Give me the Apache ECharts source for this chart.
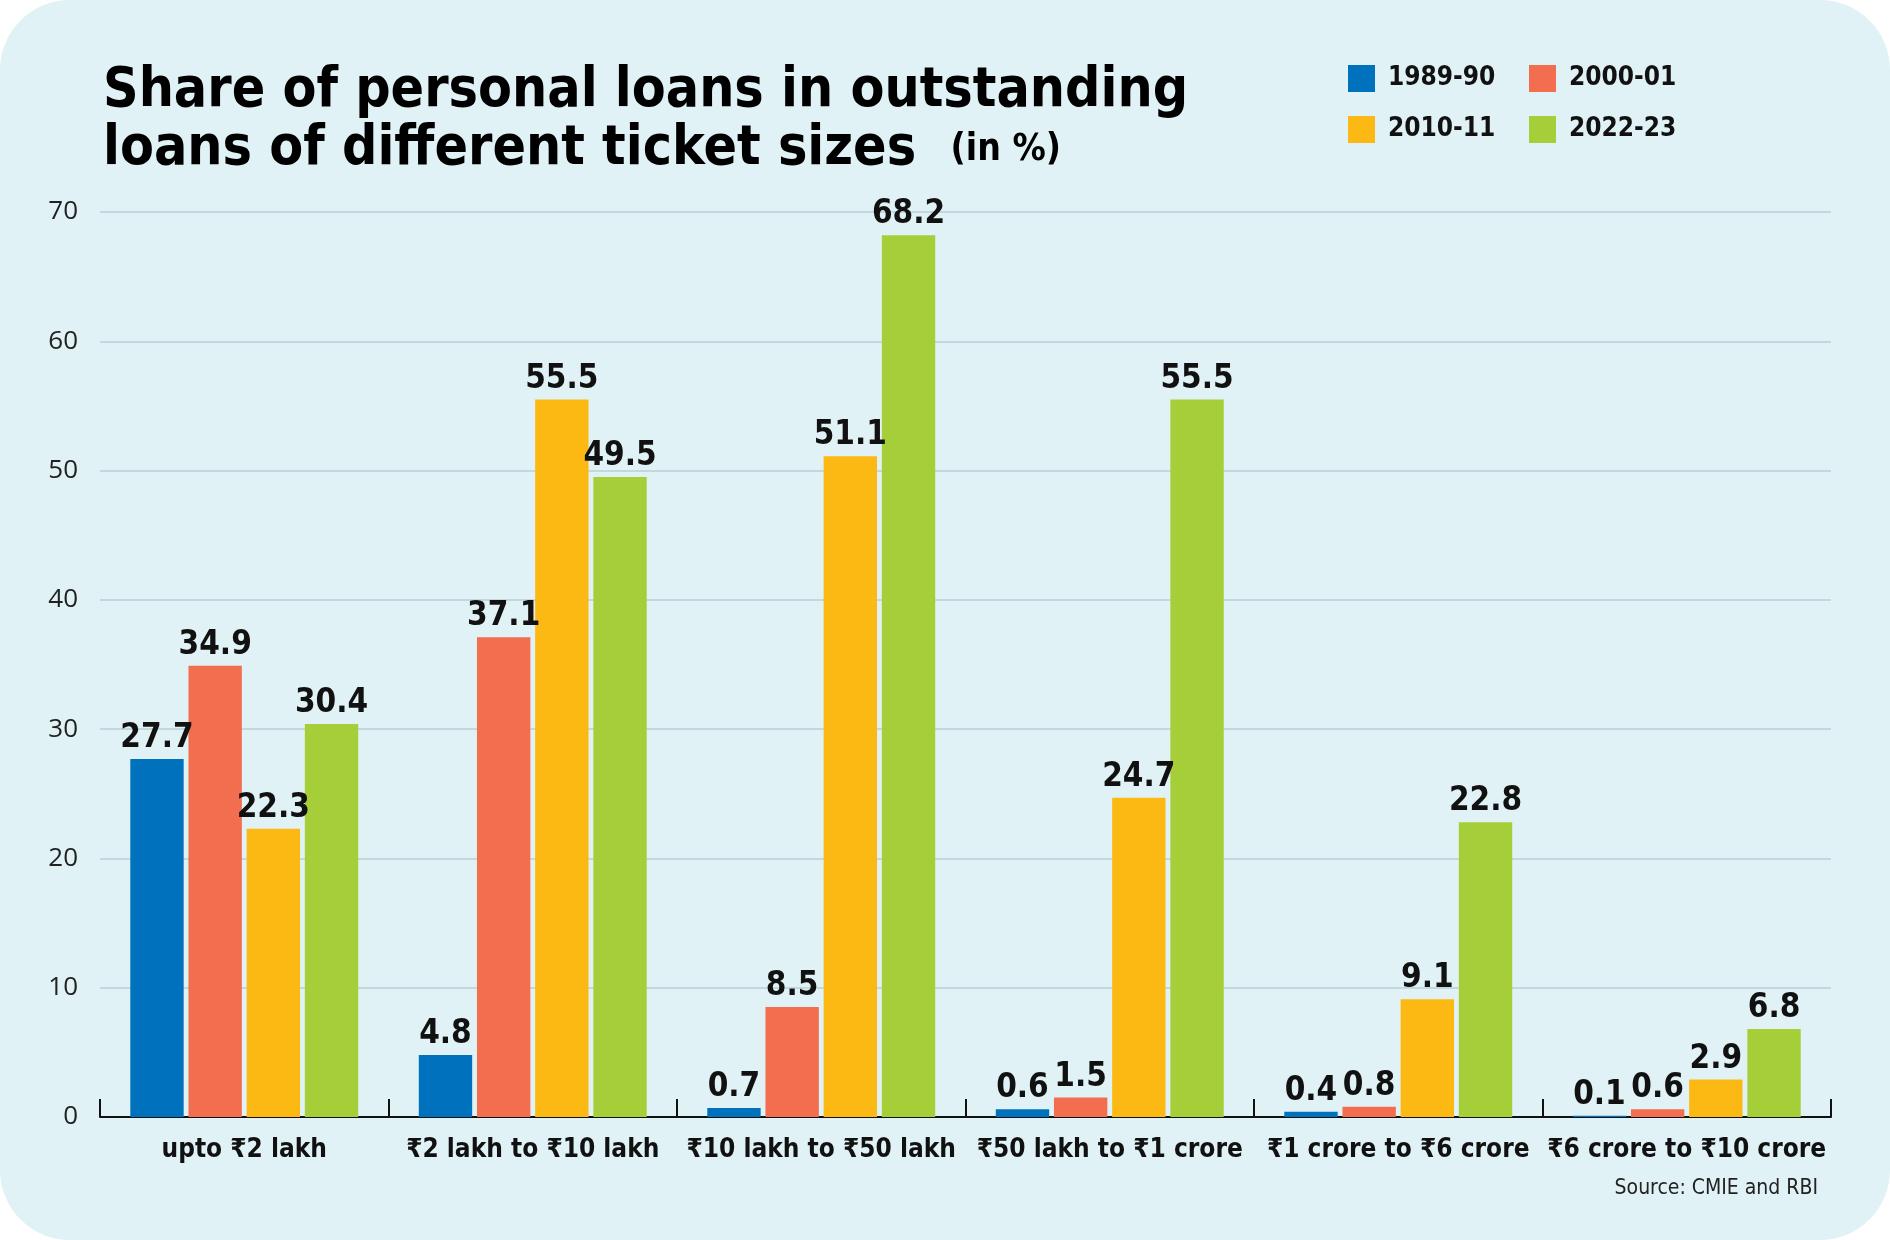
<!DOCTYPE html>
<html>
<head>
<meta charset="utf-8">
<script src="https://cdn.jsdelivr.net/npm/echarts@6/dist/echarts.min.js"></script>
<style>
  html, body { margin: 0; padding: 0; background: #ffffff; }
  #card {
    width: 1890px; height: 1240px;
    background: #e0f2f5;
    border-radius: 70px;
    overflow: hidden;
  }
  #chart { width: 1890px; height: 1240px; }
</style>
</head>
<body>
<div id="card"><div id="chart"></div></div>
<script>
// values
const categories = ['upto ₹2 lakh', '₹2 lakh to ₹10 lakh', '₹10 lakh to ₹50 lakh',
  '₹50 lakh to ₹1 crore', '₹1 crore to ₹6 crore', '₹6 crore to ₹10 crore'];
const years = ['1989-90', '2000-01', '2010-11', '2022-23'];
const y1989 = [27.7, 4.8, 0.7, 0.6, 0.4, 0.1];
const y2000 = [34.9, 37.1, 8.5, 1.5, 0.8, 0.6];
const y2010 = [22.3, 55.5, 51.1, 24.7, 9.1, 2.9];
const y2022 = [30.4, 49.5, 68.2, 55.5, 22.8, 6.8];
const colors = ['#0071bc', '#f26e4e', '#fdb913', '#a6ce39'];

const condensed = '"DejaVu Sans Condensed", "Noto Sans", sans-serif';

const chart = echarts.init(document.getElementById('chart'), null, { renderer: 'canvas' });

function bar(name, data, i) {
  return {
    name: name,
    type: 'bar',
    data: data,
    barGap: '9%',
    barCategoryGap: '21%',
    itemStyle: { color: colors[i] },
    label: {
      show: true,
      position: 'top',
      distance: 4,
      color: '#111',
      fontFamily: condensed,
      fontWeight: 'bold',
      fontSize: 33
    }
  };
}

const legendText = { color: '#111', fontFamily: condensed, fontWeight: 'bold', fontSize: 26, padding: [0, 0, 0, 8] };

const option = {
  backgroundColor: 'transparent',
  animation: false,
  title: {
    left: 98,
    top: 58,
    text: 'Share of personal loans in outstanding\nloans of different ticket sizes  {s|(in %)}',
    textStyle: {
      color: '#000',
      fontFamily: condensed,
      fontWeight: 'bold',
      fontSize: 55,
      lineHeight: 58,
      rich: {
        s: { fontFamily: condensed, fontWeight: 'bold', fontSize: 37, color: '#000', lineHeight: 58 }
      }
    }
  },
  legend: [
    {
      data: ['1989-90', '2010-11'],
      orient: 'vertical',
      left: 1343, top: 60,
      itemWidth: 27, itemHeight: 27, itemGap: 24,
      icon: 'rect',
      textStyle: legendText
    },
    {
      data: ['2000-01', '2022-23'],
      orient: 'vertical',
      left: 1524, top: 60,
      itemWidth: 27, itemHeight: 27, itemGap: 24,
      icon: 'rect',
      textStyle: legendText
    }
  ],
  grid: { left: 100, right: 59, top: 212, bottom: 123, containLabel: false },
  xAxis: {
    type: 'category',
    data: categories,
    axisLine: { lineStyle: { color: '#111', width: 2 } },
    axisTick: { show: true, inside: true, length: 18, lineStyle: { color: '#111', width: 2 } },
    axisLabel: {
      interval: 0,
      margin: 20,
      color: '#111',
      fontFamily: condensed,
      fontWeight: 'bold',
      fontSize: 26
    }
  },
  yAxis: {
    type: 'value',
    min: 0, max: 70, interval: 10,
    axisLine: { show: false },
    axisTick: { show: false },
    splitLine: { lineStyle: { color: '#b9cfd5', width: 1.5 } },
    axisLabel: {
      margin: 22,
      color: '#222',
      fontFamily: '"Open Sans", "DejaVu Sans", sans-serif',
      fontSize: 26
    }
  },
  graphic: [
    {
      type: 'text',
      right: 72, top: 1178,
      style: {
        text: 'Source: CMIE and RBI',
        fill: '#222',
        font: '21px ' + condensed
      }
    }
  ],
  series: [
    bar(years[0], y1989, 0),
    bar(years[1], y2000, 1),
    bar(years[2], y2010, 2),
    bar(years[3], y2022, 3)
  ]
};

chart.setOption(option);
</script>
</body>
</html>
